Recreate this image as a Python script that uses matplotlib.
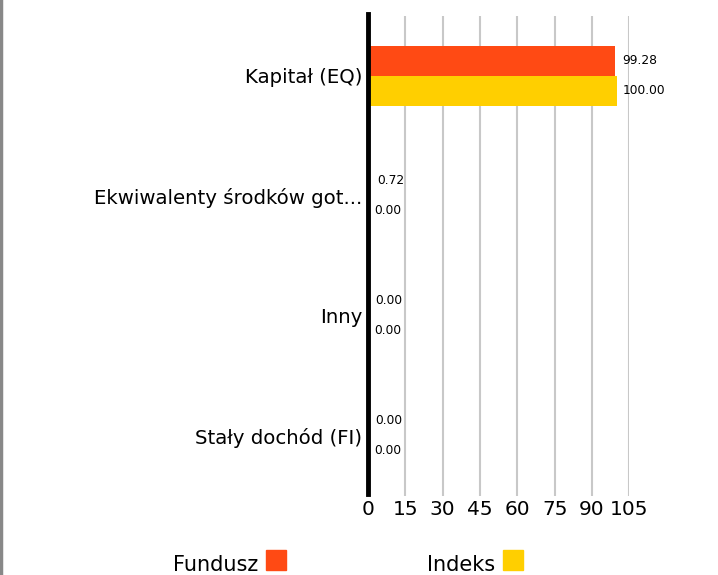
import matplotlib.pyplot as plt
from matplotlib.patches import Rectangle
from matplotlib.lines import Line2D

plt.rcParams['font.family'] = ['DejaVu Sans']

categories = ['Kapitał (EQ)', 'Ekwiwalenty środków got...', 'Inny', 'Stały dochód (FI)']
fund = [99.28, 0.72, 0.00, 0.00]
index = [100.00, 0.00, 0.00, 0.00]
ticks = [0, 15, 30, 45, 60, 75, 90, 105]
series_names = ['Fundusz', 'Indeks']

fund_color = '#FF4A14'
index_color = '#FFCF00'

W, H = 718, 575
fig = plt.figure(figsize=(W / 100, H / 100), dpi=100)
ax = fig.add_axes([0.5125, 0.1374, 0.364, 0.8348])

h = 0.25
pos = list(range(len(categories)))
ax.barh([p - h / 2 for p in pos], fund, height=h, color=fund_color, zorder=3)
ax.barh([p + h / 2 for p in pos], index, height=h, color=index_color, zorder=3)

# value labels next to each bar
for p, f, i in zip(pos, fund, index):
    ax.annotate(f'{f:.2f}', (f, p - h / 2), xytext=(5.5, 0), textcoords='offset points',
                va='center', ha='left', fontsize=8.8, zorder=4)
    ax.annotate(f'{i:.2f}', (i, p + h / 2), xytext=(4.5, 0), textcoords='offset points',
                va='center', ha='left', fontsize=8.8, zorder=4)

ax.set_xlim(0, 105)
ax.set_ylim(3.5, -0.5)
ax.set_xticks(ticks)
ax.set_xticklabels([str(t) for t in ticks], fontsize=14.5)
ax.set_yticks(pos)
ax.set_yticklabels(categories, fontsize=14.2)
ax.tick_params(axis='both', length=0, pad=4)
ax.tick_params(axis='x', pad=3)

ax.grid(axis='x', color='#c8c8c8', linewidth=1.5, zorder=0)
for s in ['top', 'right', 'bottom']:
    ax.spines[s].set_visible(False)
ax.spines['left'].set_linewidth(3.5)
ax.spines['left'].set_color('black')
ax.spines['left'].set_zorder(5)
ax.spines['left'].set_bounds(-0.52, 3.48)

# grey border on the left edge of the image
fig.add_artist(Line2D([0.002, 0.002], [0, 1], color='#888888', linewidth=2.5,
                      transform=fig.transFigure))

# legend: label text followed by a colour square
legend_items = [(series_names[0], fund_color, 258), (series_names[1], index_color, 495)]
for name, col, xr in legend_items:
    fig.text(xr / W, 1 - 571 / H, name, ha='right', va='baseline', fontsize=15)
    fig.add_artist(Rectangle(((xr + 8) / W, 1 - 570 / H), 20 / W, 20 / H,
                             color=col, transform=fig.transFigure))

fig.savefig('out.png', dpi=100)
